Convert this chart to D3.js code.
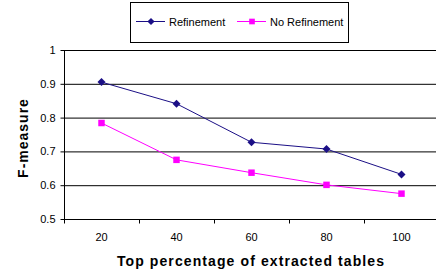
<!DOCTYPE html>
<html>
<head>
<meta charset="utf-8">
<script src="https://cdn.jsdelivr.net/npm/d3@7"></script>
<style>
  html, body { margin: 0; padding: 0; background: #fff; overflow: hidden; }
  svg { display: block; }
  text { font-family: "Liberation Sans", Arial, sans-serif; }
</style>
</head>
<body>
<div id="chart"></div>
<script>
const categories = ["20", "40", "60", "80", "100"];
const refinement = [0.905, 0.841, 0.727, 0.707, 0.632];
const noRefinement = [0.784, 0.675, 0.637, 0.601, 0.575];
const yTicks = [0.5, 0.6, 0.7, 0.8, 0.9, 1];

const width = 436, height = 273;
const margin = { top: 50, right: 0, bottom: 54, left: 64 };
const innerWidth = width - margin.left - margin.right;
const innerHeight = height - margin.top - margin.bottom;

const svg = d3.select("#chart").append("svg")
    .attr("width", width).attr("height", height);
const g = svg.append("g").attr("transform", `translate(${margin.left},${margin.top})`);

// category band is 75px, the last one runs a little past the right edge
const x = d3.scaleBand().domain(categories).range([0, 375]);
const y = d3.scaleLinear().domain([0.5, 1]).range([innerHeight, 0]);

// gridlines
g.selectAll(".grid").data(yTicks.slice(1)).enter().append("line")
    .attr("x1", 0).attr("x2", innerWidth)
    .attr("y1", d => y(d) + 0.5).attr("y2", d => y(d) + 0.5)
    .attr("stroke", "#000").attr("stroke-width", 1);

// y axis
const yAxis = g.append("g").attr("transform", "translate(0.5,0)")
    .call(d3.axisLeft(y).tickValues(yTicks).tickFormat(d => d === 1 ? "1" : d3.format(".1f")(d)).tickSize(4).tickPadding(5));
yAxis.select(".domain").attr("d", `M0,${y(1)}V${innerHeight + 0.5}`);
yAxis.selectAll("text").attr("font-size", 11).attr("fill", "#000")
    .attr("font-family", "'Liberation Sans', Arial, sans-serif");

// x axis (ticks between categories)
const xAxis = g.append("g").attr("transform", `translate(0,${innerHeight + 0.5})`);
xAxis.append("line").attr("x1", 0).attr("x2", innerWidth).attr("stroke", "#000");
xAxis.selectAll(".tk").data(categories).enter().append("line")
    .attr("x1", d => x(d) + 0.5).attr("x2", d => x(d) + 0.5)
    .attr("y1", 0).attr("y2", 4).attr("stroke", "#000");
xAxis.selectAll(".lbl").data(categories).enter().append("text")
    .attr("x", d => x(d) + x.bandwidth() / 2).attr("y", 21)
    .attr("text-anchor", "middle").attr("font-size", 11).text(d => d);

const line = d3.line()
    .x((d, i) => x(categories[i]) + x.bandwidth() / 2)
    .y(d => y(d));

const series = [
    { name: "Refinement", values: refinement, color: "#1b0f86", diamond: true },
    { name: "No Refinement", values: noRefinement, color: "#ff00ff", diamond: false }
];

function marker(sel, s, size) {
    sel.attr("d", d3.symbol().type(d3.symbolSquare).size(size))
        .attr("fill", s.color);
}

series.forEach(s => {
    g.append("path").datum(s.values)
        .attr("d", line).attr("fill", "none")
        .attr("stroke", s.color).attr("stroke-width", 1);
    g.selectAll(null).data(s.values).enter().append("path")
        .attr("transform", (d, i) => `translate(${x(categories[i]) + x.bandwidth() / 2},${y(d)})` + (s.diamond ? " rotate(45)" : ""))
        .call(marker, s, s.diamond ? 32 : 42);
});

// axis titles
svg.append("text")
    .attr("x", 251).attr("y", 266)
    .attr("text-anchor", "middle").attr("font-size", 14).attr("font-weight", "bold")
    .attr("letter-spacing", 1.1)
    .text("Top percentage of extracted tables");
svg.append("text")
    .attr("transform", "translate(28,138) rotate(-90)")
    .attr("text-anchor", "middle").attr("font-size", 14).attr("font-weight", "bold")
    .attr("letter-spacing", 1)
    .text("F-measure");

// legend
const legend = svg.append("g");
legend.append("rect").attr("x", 130.5).attr("y", 2.5).attr("width", 218).attr("height", 40)
    .attr("fill", "#fff").attr("stroke", "#000");
const legendX = [136, 237];
series.forEach((s, i) => {
    const lx = legendX[i];
    legend.append("line").attr("x1", lx).attr("x2", lx + 29).attr("y1", 21.5).attr("y2", 21.5)
        .attr("stroke", s.color);
    legend.append("path")
        .attr("transform", `translate(${lx + 15},21.5)` + (s.diamond ? " rotate(45)" : ""))
        .call(marker, s, s.diamond ? 26 : 32);
    legend.append("text").attr("x", lx + 33).attr("y", 25.5)
        .attr("font-size", 11).text(s.name);
});
</script>
</body>
</html>
